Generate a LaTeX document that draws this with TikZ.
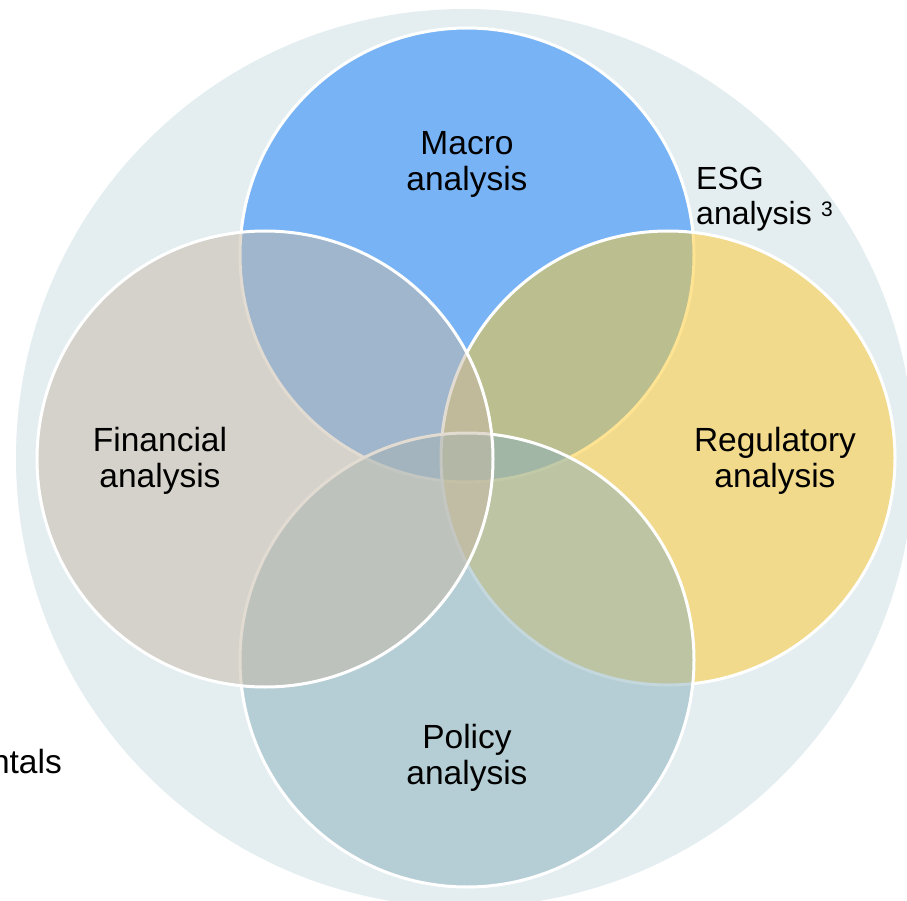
\documentclass[tikz,border=0pt]{standalone}
\usepackage{fontspec}
\setmainfont{Liberation Sans}
\definecolor{bgc}{RGB}{228,238,240}
\definecolor{macroc}{RGB}{14,124,250}
\definecolor{regc}{RGB}{254,200,40}
\definecolor{finc}{RGB}{198,184,166}
\definecolor{polc}{RGB}{136,176,188}
\tikzset{
  venn/.style={draw=white, line width=3pt, fill opacity=0.5},
  lbl/.style={inner sep=0pt, anchor=base, font=\fontsize{33.5}{37}\selectfont},
  esglbl/.style={inner sep=0pt, anchor=base west, font=\fontsize{32}{35}\selectfont},
}
\begin{document}
\begin{tikzpicture}[x=1pt,y=-1pt]
\clip (0,0) rectangle (907,901);
\fill[white] (0,0) rectangle (907,901);
% outer background circle
\fill[bgc] (465,458) circle[radius=449pt];
% four circles
\draw[venn, fill=macroc] (467,255) circle[radius=227pt];
\draw[venn, fill=regc] (668,458) circle[radius=227pt];
\draw[venn, fill=polc] (467,660) circle[radius=227pt];
\draw[venn, fill=finc] (265,459) circle[radius=228pt];
% labels
\node[lbl] (macro1) at (467,155) {Macro};
\node[lbl] (macro2) at (467,191) {analysis};
\node[lbl] (fin1) at (160,451) {Financial};
\node[lbl] (fin2) at (160,487) {analysis};
\node[lbl] (reg1) at (775,451) {Regulatory};
\node[lbl] (reg2) at (775,487) {analysis};
\node[lbl] (pol1) at (467,748) {Policy};
\node[lbl] (pol2) at (467,784) {analysis};
\node[esglbl] (esg1) at (696,190) {ESG};
\node[esglbl] (esg2) at (696,225) {analysis};
\node[inner sep=0pt, anchor=base west, font=\fontsize{21}{23}\selectfont] (esg3) at (821,217) {3};
\node[inner sep=0pt, anchor=base east, font=\fontsize{33.5}{37}\selectfont] (fund) at (62,773) {ntals};
\end{tikzpicture}
\end{document}
